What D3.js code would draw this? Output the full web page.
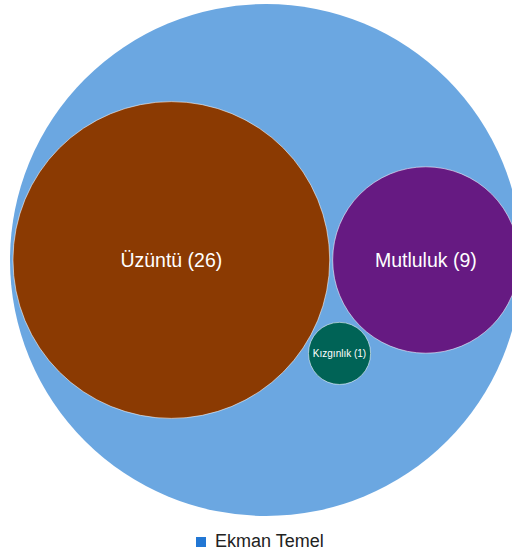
<!DOCTYPE html>
<html>
<head>
<meta charset="utf-8">
<script src="https://cdn.jsdelivr.net/npm/d3@7"></script>
<style>
  html, body { margin: 0; padding: 0; background: #fff; }
  svg { display: block; font-family: "Liberation Sans", Arial, Helvetica, sans-serif; }
</style>
</head>
<body>
<svg id="chart" width="512" height="553"></svg>
<script>
const seriesName = "Ekman Temel";
const categories = ["Üzüntü", "Mutluluk", "Kızgınlık"];
const values = [26, 9, 1];
const colors = ["#8b3a02", "#661a82", "#006356"];
const parentColor = "#6ba7e1";
const legendColor = "#2277d4";

const W = 512, H = 553;
const svg = d3.select("#chart");

const root = d3.hierarchy({
  name: seriesName,
  children: categories.map((c, i) => ({ name: c, value: values[i], color: colors[i] }))
}).sum(d => d.value || 0).sort((a, b) => b.value - a.value);

const R = 256;
d3.pack().size([2 * R, 2 * R]).padding(3)(root);

const g = svg.append("g").attr("transform", `translate(${266 - R},${260 - R})`);

g.append("circle")
  .attr("cx", root.x).attr("cy", root.y).attr("r", root.r)
  .attr("fill", parentColor);

const leaves = root.leaves();
g.selectAll("circle.leaf").data(leaves).enter().append("circle")
  .attr("class", "leaf")
  .attr("cx", d => d.x).attr("cy", d => d.y).attr("r", d => d.r)
  .attr("fill", d => d.data.color)
  .attr("stroke", "rgba(255,255,255,0.55)")
  .attr("stroke-width", 1);

g.selectAll("text.lbl").data(leaves).enter().append("text")
  .attr("class", "lbl")
  .attr("x", d => d.x).attr("y", d => d.y)
  .attr("text-anchor", "middle")
  .attr("dominant-baseline", "central")
  .attr("fill", "#ffffff")
  .attr("font-size", d => d.r > 60 ? 19.5 : 10)
  .text(d => `${d.data.name} (${d.data.value})`);

// legend
const legend = svg.append("g").attr("transform", "translate(196,537)");
legend.append("rect").attr("x", 0).attr("y", 0).attr("width", 10).attr("height", 10).attr("fill", legendColor);
legend.append("text").attr("x", 19).attr("y", 10).attr("font-size", 18).attr("fill", "#222").text(seriesName);
</script>
</body>
</html>
